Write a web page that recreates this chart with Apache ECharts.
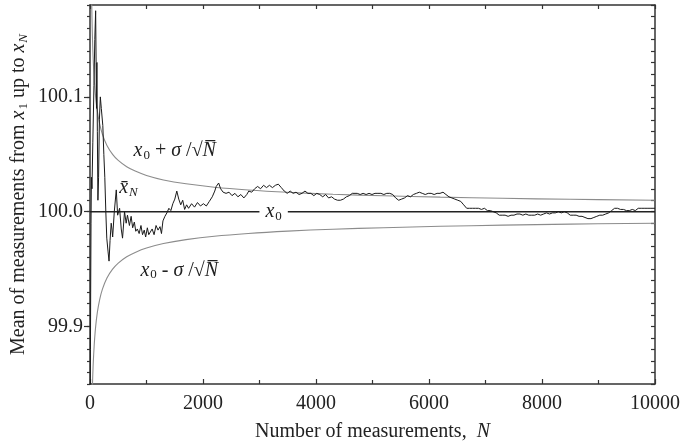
<!DOCTYPE html>
<html>
<head>
<meta charset="utf-8">
<script src="https://cdn.jsdelivr.net/npm/echarts@6/dist/echarts.min.js"></script>
<style>html,body{margin:0;padding:0;background:#fff}#c{width:683px;height:447px}</style>
</head>
<body>
<div id="c"></div>
<script>
// ---- data ----
var meanN = [1,4,8,12,18,25,35,50,70,85,100,108,115,122,130,140,152,166,183,200,227,245,262,280,297,320,337,355,375,390,401,430,465,489,524,553,576,611,640,663,698,728,755,785,810,838,870,902,930,960,985,1015,1040,1065,1100,1134,1169,1204,1239,1265,1291,1326,1361,1396,1431,1466,1501,1536,1571,1606,1641,1675,1710,1745,1798,1850,1902,1955,2007,2059,2112,2164,2208,2234,2277,2312,2356,2408,2461,2513,2565,2618,2670,2723,2775,2810,2862,2914,2967,3019,3072,3124,3176,3229,3281,3333,3386,3438,3490,3543,3595,3647,3700,3752,3805,3857,3909,3962,4014,4066,4119,4171,4223,4276,4328,4380,4433,4485,4538,4590,4642,4677,4730,4782,4834,4887,4939,4991,5044,5096,5148,5201,5253,5305,5358,5410,5463,5515,5567,5620,5672,5724,5777,5829,5881,5934,5986,6038,6091,6143,6195,6248,6300,6353,6405,6457,6510,6562,6614,6667,6719,6771,6824,6876,6929,6981,7033,7086,7138,7190,7243,7295,7347,7400,7452,7504,7557,7609,7661,7714,7766,7819,7871,7923,7976,8028,8080,8133,8185,8237,8290,8342,8394,8447,8499,8552,8604,8656,8709,8761,8813,8866,8918,8970,9023,9075,9127,9180,9232,9285,9337,9389,9442,9494,9546,9599,9651,9703,9756,9808,9860,9913,9965,10000];
var meanVal = [99.75,99.82,99.88,99.93,99.99,100.03,100.02,100.06,100.11,100.15,100.175,100.13,100.09,100.13,100.07,100.01,100.03,100.08,100.10,100.09,100.075,100.05,100.03,100.00,99.977,99.965,99.957,99.975,99.990,99.984,99.978,100.000,100.019,99.997,100.003,99.985,99.977,100.000,99.990,99.997,99.988,99.996,99.986,99.991,99.983,99.985,99.981,99.988,99.980,99.984,99.978,99.986,99.980,99.979,99.985,99.980,99.988,99.984,99.987,99.981,99.992,99.996,99.999,100.003,100.001,100.007,100.011,100.018,100.011,100.006,100.010,100.002,100.006,100.003,100.007,100.004,100.008,100.005,100.007,100.005,100.009,100.013,100.018,100.022,100.025,100.020,100.017,100.016,100.017,100.014,100.016,100.013,100.015,100.012,100.015,100.018,100.017,100.020,100.022,100.020,100.023,100.021,100.023,100.021,100.023,100.024,100.021,100.018,100.016,100.018,100.016,100.017,100.015,100.016,100.018,100.016,100.016,100.014,100.016,100.015,100.013,100.015,100.012,100.013,100.011,100.010,100.010,100.011,100.013,100.014,100.016,100.017,100.016,100.015,100.016,100.015,100.016,100.015,100.016,100.016,100.016,100.015,100.016,100.016,100.015,100.012,100.010,100.011,100.012,100.014,100.013,100.015,100.016,100.017,100.016,100.015,100.016,100.016,100.015,100.016,100.016,100.017,100.015,100.013,100.012,100.011,100.010,100.009,100.006,100.003,100.003,100.003,100.003,100.003,100.002,100.003,100.001,100.001,100.000,99.999,99.997,99.997,99.997,99.996,99.997,99.997,99.998,99.998,99.997,99.998,99.997,99.997,99.997,99.998,99.997,99.998,99.999,99.998,99.999,99.999,100.000,99.999,100.000,99.999,99.997,99.997,99.997,99.996,99.996,99.995,99.994,99.994,99.995,99.996,99.997,99.997,99.998,99.999,100.001,100.003,100.003,100.002,100.002,100.001,100.001,100.002,100.001,100.003,100.003,100.003,100.003,100.003,100.003,100.003];

var envN     = [25,28,32,36,40,45,50,60,70,80,100,130,170,220,300,400,500,650,800,1000,1300,1700,2200,2800,3500,4300,5200,6200,7300,8500,10000];
var envUpper = [100.2,100.189,100.177,100.167,100.158,100.149,100.141,100.129,100.120,100.112,100.1,100.0877,100.0767,100.0674,100.0577,100.05,100.0447,100.0392,100.0354,100.0316,100.0277,100.0243,100.0213,100.0189,100.0169,100.0152,100.0139,100.0127,100.0117,100.0108,100.010];
var envLower = [99.8,99.811,99.823,99.833,99.842,99.851,99.859,99.871,99.880,99.888,99.9,99.9123,99.9233,99.9326,99.9423,99.95,99.9553,99.9608,99.9646,99.9684,99.9723,99.9757,99.9787,99.9811,99.9831,99.9848,99.9861,99.9873,99.9883,99.9892,99.990];

var x0Value = 100.0;
var yLabelValues = [99.9, 100.0, 100.1];

// ---- chart ----
var serif = '"Liberation Serif", "Times New Roman", serif';
var pair = function (a, b) { return a.map(function (v, i) { return [v, b[i]]; }); };
var rich = {
  i: {fontFamily: serif, fontStyle: 'italic', fontSize: 20, color: '#222'},
  r: {fontFamily: serif, fontSize: 20, color: '#222'},
  s: {fontFamily: serif, fontStyle: 'italic', fontSize: 13, color: '#222', verticalAlign: 'bottom', padding: [9, 0, 0, 1]},
  sr: {fontFamily: serif, fontSize: 13, color: '#222', verticalAlign: 'bottom', padding: [9, 0, 0, 1]}
};
var frameColor = '#333';
var chart = echarts.init(document.getElementById('c'), null, {renderer: 'canvas'});
chart.setOption({
  backgroundColor: '#fff',
  animation: false,
  grid: {left: 90, right: 20, top: 5, bottom: 61, containLabel: false},
  xAxis: [{
    type: 'value', min: 0, max: 10000, interval: 2000, position: 'bottom',
    name: '{r|Number of measurements,  }{i|N}', nameLocation: 'middle', nameGap: 38,
    nameTextStyle: {rich: rich},
    axisLine: {lineStyle: {color: frameColor, width: 1.5}},
    axisTick: {inside: true, length: 5, lineStyle: {color: frameColor, width: 1.2}},
    minorTick: {show: true, splitNumber: 2, length: 4, lineStyle: {color: frameColor, width: 1.2}},
    axisLabel: {fontFamily: serif, fontSize: 20, color: '#222', margin: 10,
      formatter: function (v) { return String(v); }},
    splitLine: {show: false}
  }, {
    type: 'value', min: 0, max: 10000, interval: 1000, position: 'top',
    axisLine: {lineStyle: {color: frameColor, width: 1.5}},
    axisTick: {inside: true, length: 4, lineStyle: {color: frameColor, width: 1.2}},
    axisLabel: {show: false}, splitLine: {show: false}
  }],
  yAxis: [{
    type: 'value', min: 99.85, max: 100.18, interval: 0.01, position: 'left',
    name: '{r|Mean of measurements from }{i|x}{sr|1}{r| up to }{i|x}{s|N}',
    nameLocation: 'middle', nameGap: 60, nameRotate: 90,
    nameTextStyle: {rich: rich},
    axisLine: {lineStyle: {color: frameColor, width: 1.5}},
    axisTick: {inside: false, length: 3, lineStyle: {color: frameColor, width: 1.2}},
    axisLabel: {show: false}, splitLine: {show: false}
  }, {
    type: 'value', min: 99.85, max: 100.18, position: 'left',
    axisLine: {show: false},
    axisTick: {inside: false, length: 6, customValues: yLabelValues, lineStyle: {color: frameColor, width: 1.2}},
    axisLabel: {customValues: yLabelValues, fontFamily: serif, fontSize: 20, color: '#222', margin: 7,
      formatter: function (v) { return v.toFixed(1); }},
    splitLine: {show: false}
  }, {
    type: 'value', min: 99.85, max: 100.18, interval: 0.01, position: 'right',
    axisLine: {lineStyle: {color: frameColor, width: 1.5}},
    axisTick: {inside: true, length: 4, lineStyle: {color: frameColor, width: 1.2}},
    axisLabel: {show: false}, splitLine: {show: false}
  }],
  series: [{
    type: 'line', name: 'upper', data: pair(envN, envUpper), smooth: 0.4, symbol: 'none',
    lineStyle: {color: '#8c8c8c', width: 1.1}, z: 2,
    markPoint: {symbol: 'rect', symbolSize: 0, data: [{coord: [1500, 100.053]}],
      label: {show: true, position: 'inside', formatter: '{i|x}{sr|0}{r| + }{i|σ}{r| /√}{i|N\u0305}', rich: rich}}
  }, {
    type: 'line', name: 'lower', data: pair(envN, envLower), smooth: 0.4, symbol: 'none',
    lineStyle: {color: '#8c8c8c', width: 1.1}, z: 2,
    markPoint: {symbol: 'rect', symbolSize: 0, data: [{coord: [1580, 99.949]}],
      label: {show: true, position: 'inside', formatter: '{i|x}{sr|0}{r| - }{i|σ}{r| /√}{i|N\u0305}', rich: rich}}
  }, {
    type: 'line', name: 'x0', data: [[0, x0Value], [10000, x0Value]], symbol: 'none',
    lineStyle: {color: '#222', width: 1.3}, z: 3,
    markPoint: {symbol: 'rect', symbolSize: 0, data: [{coord: [3250, x0Value]}],
      label: {show: true, position: 'inside', formatter: '{i|x}{sr|0}', rich: rich,
        backgroundColor: '#fff', padding: [0, 6, 0, 6]}}
  }, {
    type: 'line', name: 'mean', data: pair(meanN, meanVal), symbol: 'none',
    lineStyle: {color: '#1a1a1a', width: 1}, z: 4,
    markPoint: {symbol: 'rect', symbolSize: 0, data: [{coord: [680, 100.021]}],
      label: {show: true, position: 'inside', formatter: '{i|x\u0304}{s|N}', rich: rich}}
  }]
});
</script>
</body>
</html>
